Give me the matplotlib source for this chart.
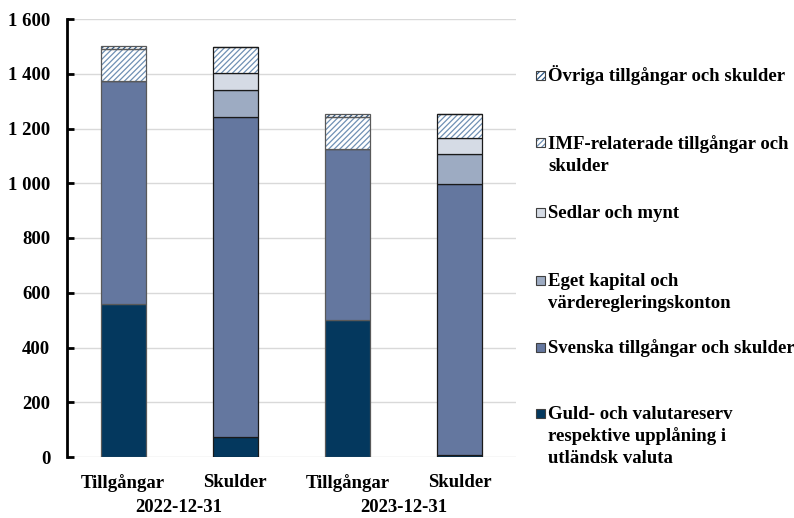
import matplotlib
matplotlib.use("Agg")
import matplotlib.pyplot as plt
from matplotlib.patches import Rectangle
from matplotlib.ticker import FuncFormatter
import matplotlib.transforms as mtransforms

bar_labels = ["Tillgångar", "Skulder", "Tillgångar", "Skulder"]
group_labels = ["2022-12-31", "2023-12-31"]

guld = [559, 74, 499, 6]
svenska = [816, 1167, 626, 990]
eget = [0, 100, 0, 110]
sedlar = [0, 63, 0, 58]
imf = [115, 93, 116, 89]
ovriga = [10, 2, 12, 0]

series_names = [
    "Guld- och valutareserv\nrespektive upplåning i\nutländsk valuta",
    "Svenska tillgångar och skulder",
    "Eget kapital och\nvärderegleringskonton",
    "Sedlar och mynt",
    "IMF-relaterade tillgångar och\nskulder",
    "Övriga tillgångar och skulder",
]

plt.rcParams['font.family'] = ['Liberation Serif', 'DejaVu Serif']
plt.rcParams['font.weight'] = 'bold'
plt.rcParams['hatch.linewidth'] = 0.9
FS = 13.5

fig = plt.figure(figsize=(7.94, 5.18), dpi=100)
ax = fig.add_axes([67/794, 61/518, 449/794, 438/518])

x = list(range(len(bar_labels)))
width = 0.4
edge_cols = ["#595959", "#1a1a1a", "#595959", "#1a1a1a"]

IMF_H, IMF_C = "//////", "#6f90b4"
OVR_H, OVR_C = "//////", "#2a5583"
solid = [
    (guld, "#04385e", None, None),
    (svenska, "#64779f", None, None),
    (eget, "#9dabc2", None, None),
    (sedlar, "#d5dbe5", None, None),
    (imf, "white", IMF_H, IMF_C),
    (ovriga, "white", OVR_H, OVR_C),
]

bottom = [0]*len(x)
for vals, col, hatch, hcol in solid:
    if hatch is None:
        ax.bar(x, vals, width, bottom=bottom, color=col, edgecolor=edge_cols,
               linewidth=0.9, zorder=3)
    else:
        ax.bar(x, vals, width, bottom=bottom, color=col, edgecolor=hcol,
               hatch=hatch, linewidth=0, zorder=3)
        ax.bar(x, vals, width, bottom=bottom, fill=False, edgecolor=edge_cols,
               linewidth=0.9, zorder=4)
    bottom = [b + v for b, v in zip(bottom, vals)]

ax.set_xlim(-0.5, 3.5)
ax.set_ylim(0, 1600)
ax.set_yticks(range(0, 1601, 200))
ax.yaxis.set_major_formatter(FuncFormatter(lambda v, p: f"{int(v):,}".replace(",", " ")))
ax.set_xticks(x)
ax.set_xticklabels(bar_labels, fontsize=FS, fontweight='bold')
ax.tick_params(axis='x', length=0, pad=12)
ax.tick_params(axis='y', direction='in', length=5, width=2, pad=12, labelsize=FS)
for lab in ax.get_yticklabels():
    lab.set_fontweight('bold')

ax.grid(axis='y', color='#d9d9d9', linewidth=1, zorder=0)
for s in ['top', 'right', 'bottom']:
    ax.spines[s].set_visible(False)
ax.spines['left'].set_linewidth(2)
ax.spines['left'].set_color('black')

trans = mtransforms.blended_transform_factory(ax.transData, ax.transAxes)
for i, g in enumerate(group_labels):
    ax.text(2*i + 0.5, -0.115, g, transform=trans, ha='center', va='center',
            fontsize=FS, fontweight='bold')

# legend (manual, handles beside the first line of each entry)
leg_items = [
    (series_names[5], 75, "white", OVR_H, OVR_C),
    (series_names[4], 143, "white", IMF_H, IMF_C),
    (series_names[3], 212, "#d5dbe5", None, None),
    (series_names[2], 280, "#9dabc2", None, None),
    (series_names[1], 347, "#64779f", None, None),
    (series_names[0], 413, "#04385e", None, None),
]
W, H = 794, 518
for text, yc, col, hatch, hcol in leg_items:
    sz = 9
    if hatch:
        fig.add_artist(Rectangle((536/W, 1-(yc+sz/2)/H), sz/W, sz/H, transform=fig.transFigure,
                                 facecolor=col, edgecolor=hcol, hatch=hatch, linewidth=0))
    fig.add_artist(Rectangle((536/W, 1-(yc+sz/2)/H), sz/W, sz/H, transform=fig.transFigure,
                             facecolor=col if not hatch else 'none', edgecolor='#404040', linewidth=0.8))
    for j, line in enumerate(text.split("\n")):
        fig.text(548/W, 1-(yc+6+22*j)/H, line, ha='left', va='baseline', fontsize=FS,
                 fontweight='bold')

fig.savefig("out.png", dpi=100)
